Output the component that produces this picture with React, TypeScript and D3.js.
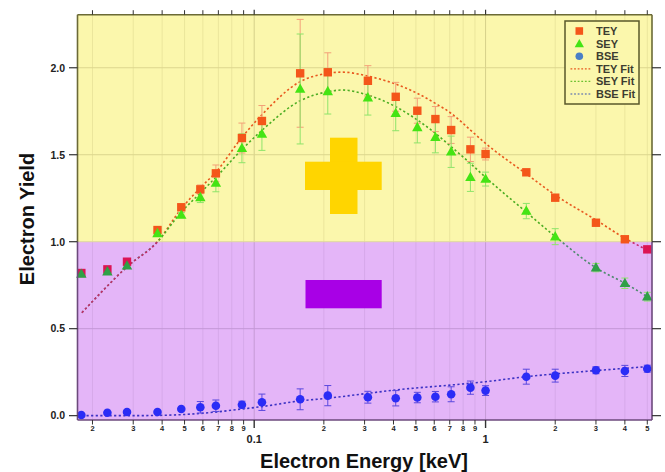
import React from "react";
import * as d3 from "d3";

const energy = [0.0179, 0.0232, 0.0282, 0.0382, 0.0484, 0.0585, 0.0683, 0.0885, 0.108, 0.158, 0.208, 0.31, 0.409, 0.507, 0.607, 0.71, 0.86, 1.0, 1.5, 2.0, 3.0, 4.0, 5.0];
const teyValues = [0.82, 0.841, 0.885, 1.067, 1.198, 1.301, 1.393, 1.596, 1.694, 1.968, 1.974, 1.925, 1.833, 1.753, 1.705, 1.642, 1.531, 1.504, 1.399, 1.253, 1.109, 1.014, 0.956];
const teyErr = [0.01, 0.01, 0.01, 0.015, 0.015, 0.025, 0.048, 0.086, 0.089, 0.31, 0.112, 0.087, 0.083, 0.072, 0.072, 0.077, 0.07, 0.034, 0.01, 0.01, 0.01, 0.01, 0.01];
const seyValues = [0.814, 0.828, 0.862, 1.048, 1.153, 1.255, 1.337, 1.537, 1.619, 1.878, 1.864, 1.828, 1.738, 1.657, 1.6, 1.517, 1.37, 1.36, 1.176, 1.029, 0.851, 0.761, 0.684];
const seyErr = [0.01, 0.01, 0.01, 0.015, 0.015, 0.03, 0.05, 0.083, 0.094, 0.316, 0.13, 0.1, 0.1, 0.089, 0.089, 0.09, 0.081, 0.04, 0.044, 0.046, 0.024, 0.03, 0.025];
const bseValues = [0.004, 0.017, 0.021, 0.021, 0.038, 0.048, 0.057, 0.063, 0.077, 0.094, 0.115, 0.106, 0.1, 0.104, 0.109, 0.123, 0.161, 0.144, 0.224, 0.23, 0.261, 0.257, 0.27];
const bseErr = [0, 0, 0, 0, 0, 0.033, 0.033, 0.02, 0.047, 0.06, 0.058, 0.034, 0.044, 0.03, 0.03, 0.043, 0.038, 0.028, 0.043, 0.037, 0.02, 0.032, 0.02];

const fitEnergy = [0.018, 0.0223, 0.0282, 0.0382, 0.0484, 0.0585, 0.0683, 0.0885, 0.108, 0.158, 0.208, 0.24, 0.31, 0.409, 0.507, 0.607, 0.71, 0.86, 1.0, 1.5, 2.0, 3.0, 4.0, 5.0];
const teyFit = [0.592, 0.722, 0.856, 1.0, 1.19, 1.31, 1.40, 1.6, 1.73, 1.92, 1.968, 1.975, 1.952, 1.906, 1.853, 1.795, 1.738, 1.642, 1.565, 1.39, 1.268, 1.125, 1.02, 0.952];
const seyFit = [0.592, 0.722, 0.856, 1.0, 1.17, 1.28, 1.37, 1.53, 1.64, 1.81, 1.862, 1.872, 1.843, 1.776, 1.70, 1.623, 1.546, 1.45, 1.37, 1.17, 1.03, 0.85, 0.761, 0.684];
const bseFitEnergy = [0.018, 0.03, 0.045, 0.06, 0.0885, 0.108, 0.158, 0.208, 0.3, 0.41, 0.71, 1.0, 1.5, 2.0, 3.0, 5.0];
const bseFit = [0.0, 0.0, 0.004, 0.014, 0.038, 0.052, 0.085, 0.1, 0.126, 0.148, 0.176, 0.195, 0.224, 0.24, 0.259, 0.282];

const yTicks = [0, 0.5, 1.0, 1.5, 2.0];
const xMajorTicks = [0.1, 1];
const xMinorTicks = [0.02, 0.03, 0.04, 0.05, 0.06, 0.07, 0.08, 0.09, 0.2, 0.3, 0.4, 0.5, 0.6, 0.7, 0.8, 0.9, 2, 3, 4, 5];
const legendLabels = ["TEY", "SEY", "BSE", "TEY Fit", "SEY Fit", "BSE Fit"];

const W = 665, H = 472;
const L = 77.5, R = 652, T = 14.7, B = 420;
const FONT = "'Liberation Sans', Arial, Helvetica, sans-serif";

const YELLOW = "#fbf7ac";
const PURPLE = "#e4b5f8";

export default function App() {
  const x = d3.scaleLog().domain([0.01723, 5.24]).range([L, R]);
  const y = d3.scaleLinear().domain([-0.025, 2.305]).range([B, T]);
  const y1 = y(1);

  const mkLine = (xs: number[], ys: number[]) =>
    d3.line<number>().x((_, i) => x(xs[i])).y((d) => y(d)).curve(d3.curveMonotoneX)(ys) || "";

  const teyPath = mkLine(fitEnergy, teyFit);
  const seyPath = mkLine(fitEnergy, seyFit);
  const bsePath = mkLine(bseFitEnergy, bseFit);

  const allTicks = [...xMinorTicks, ...xMajorTicks];
  const dash = "2.2,2.4";

  const triPath = (cx: number, cy: number, s: number) =>
    `M${cx},${cy - s * 0.62}L${cx + s * 0.58},${cy + s * 0.42}L${cx - s * 0.58},${cy + s * 0.42}Z`;

  const errBar = (e: number, v: number, err: number, color: string, key: string) => {
    if (err < 0.012) return null;
    const cx = x(e);
    const yt = y(v + err), yb = y(v - err);
    return (
      <g key={key} stroke={color} strokeWidth={1}>
        <line x1={cx} x2={cx} y1={yt} y2={yb} />
        <line x1={cx - 3.5} x2={cx + 3.5} y1={yt} y2={yt} />
        <line x1={cx - 3.5} x2={cx + 3.5} y1={yb} y2={yb} />
      </g>
    );
  };

  return (
    <svg width={W} height={H} style={{ position: "absolute", left: 0, top: 0 }} fontFamily={FONT}>
      <defs>
        <clipPath id="clipTop"><rect x={L} y={T} width={R - L} height={y1 - T} /></clipPath>
        <clipPath id="clipBot"><rect x={L} y={y1} width={R - L} height={B - y1} /></clipPath>
        <clipPath id="clipAll"><rect x={L} y={T} width={R - L} height={B - T} /></clipPath>
      </defs>
      <rect x={0} y={0} width={W} height={H} fill="#fff" />
      {/* backgrounds */}
      <rect x={L} y={T} width={R - L} height={y1 - T} fill={YELLOW} />
      <rect x={L} y={y1} width={R - L} height={B - y1} fill={PURPLE} />

      {/* grid */}
      {allTicks.map((t) => (
        <g key={"g" + t}>
          <line x1={x(t)} x2={x(t)} y1={T} y2={y1} stroke={xMajorTicks.includes(t) ? "#d6d08a" : "#ebe69c"} strokeWidth={1} />
          <line x1={x(t)} x2={x(t)} y1={y1} y2={B} stroke={xMajorTicks.includes(t) ? "#c59ad6" : "#d6a9ea"} strokeWidth={1} />
        </g>
      ))}
      {yTicks.filter((t) => t > 0 && t !== 1).map((t) => (
        <line key={"h" + t} x1={L} x2={R} y1={y(t)} y2={y(t)} stroke={t < 1 ? "#c398d6" : "#dcd68e"} strokeWidth={1} />
      ))}
      <line x1={L} x2={R} y1={y1} y2={y1} stroke="#e0d99a" strokeWidth={1} />

      {/* plus and minus decorations */}
      <rect x={330} y={137.7} width={27.5} height={76.3} fill="#ffd500" />
      <rect x={305} y={161.7} width={76.7} height={28.3} fill="#ffd500" />
      <rect x={305.5} y={280} width={76.2} height={28.3} fill="#a800e6" />

      {/* fits */}
      <g fill="none" strokeWidth={1.6} strokeDasharray={dash} clipPath="url(#clipAll)">
        <path d={teyPath} stroke="#e8581e" clipPath="url(#clipTop)" />
        <path d={seyPath} stroke="#4cad22" clipPath="url(#clipTop)" />
        <g clipPath="url(#clipBot)">
          <path d={seyPath} stroke="#4e8a6e" />
          <path d={teyPath} stroke="#c8286a" />
        </g>
        <path d={bsePath} stroke="#3c32c4" />
      </g>

      {/* error bars */}
      {energy.map((e, i) => errBar(e, teyValues[i], teyErr[i], "#f3a078", "te" + i))}
      {energy.map((e, i) => errBar(e, seyValues[i], seyErr[i], "#8ee46a", "se" + i))}
      {energy.map((e, i) => errBar(e, bseValues[i], bseErr[i], "#5a48de", "be" + i))}

      {/* markers */}
      {energy.map((e, i) => (
        <rect key={"ts" + i} x={x(e) - 4.2} y={y(teyValues[i]) - 4.2} width={8.4} height={8.4}
          fill={teyValues[i] < 1 ? "#dc1454" : "#f4561a"} />
      ))}
      {energy.map((e, i) => (
        <path key={"ss" + i} d={triPath(x(e), y(seyValues[i]), 9)}
          fill={seyValues[i] < 1 ? "#2fa046" : "#44e414"} />
      ))}
      {energy.map((e, i) => (
        <circle key={"bs" + i} cx={x(e)} cy={y(bseValues[i])} r={4.3} fill="#2b2cf6" />
      ))}

      {/* legend */}
      <g>
        <rect x={565} y={21} width={74} height={83} fill={YELLOW} stroke="#59582a" strokeWidth={1.5} />
        {legendLabels.map((lab, i) => {
          const cy = 31 + i * 12.6;
          let sym: React.ReactNode = null;
          if (i === 0) sym = <rect x={575.5} y={cy - 3.8} width={7.6} height={7.6} fill="#f4561a" />;
          if (i === 1) sym = <path d={triPath(579.3, cy + 0.3, 8)} fill="#44e414" />;
          if (i === 2) sym = <circle cx={579.3} cy={cy} r={3.8} fill="#4a7fc6" />;
          if (i >= 3) sym = <line x1={570.5} x2={591} y1={cy} y2={cy} strokeWidth={1.3} strokeDasharray="1.8,1.8"
            stroke={["#e8581e", "#6cc030", "#7a8ab0"][i - 3]} />;
          return (
            <g key={lab}>
              {sym}
              <text x={596} y={cy + 4} fontSize={11} fontWeight="bold" fill="#3d3d30">{lab}</text>
            </g>
          );
        })}
      </g>

      {/* frame */}
      <g strokeWidth={1.6}>
        <line x1={L} x2={R} y1={T} y2={T} stroke="#6b6a36" />
        <line x1={L} x2={L} y1={T} y2={y1} stroke="#6b6a36" />
        <line x1={R} x2={R} y1={T} y2={y1} stroke="#6b6a36" />
        <line x1={L} x2={L} y1={y1} y2={B} stroke="#6c4a7c" />
        <line x1={R} x2={R} y1={y1} y2={B} stroke="#6c4a7c" />
        <line x1={L} x2={R} y1={B} y2={B} stroke="#6c4a7c" />
      </g>

      {/* y axis ticks */}
      {yTicks.map((t) => (
        <g key={"yt" + t}>
          <line x1={69} x2={L} y1={y(t)} y2={y(t)} stroke="#333" strokeWidth={1.2} />
          <line x1={R} x2={R + 9} y1={y(t)} y2={y(t)} stroke="#333" strokeWidth={1.2} />
          <text x={65} y={y(t) + 3.8} fontSize={10.5} fontWeight="bold" textAnchor="end" fill="#222">{t.toFixed(1)}</text>
        </g>
      ))}

      {/* x axis ticks */}
      {xMinorTicks.map((t) => (
        <g key={"xm" + t}>
          <line x1={x(t)} x2={x(t)} y1={B} y2={B + 4.5} stroke="#333" strokeWidth={1} />
          <line x1={x(t)} x2={x(t)} y1={T} y2={T - 4.5} stroke="#333" strokeWidth={1} />
          <text x={x(t)} y={B + 10.5} fontSize={7.5} fontWeight="bold" textAnchor="middle" fill="#222">
            {String(Math.round(t / Math.pow(10, Math.floor(Math.log10(t) + 1e-9))))}
          </text>
        </g>
      ))}
      {xMajorTicks.map((t) => (
        <g key={"xM" + t}>
          <line x1={x(t)} x2={x(t)} y1={B} y2={B + 8} stroke="#333" strokeWidth={1.4} />
          <line x1={x(t)} x2={x(t)} y1={T} y2={T - 5} stroke="#333" strokeWidth={1.2} />
          <text x={x(t)} y={B + 23} fontSize={11} fontWeight="bold" textAnchor="middle" fill="#222">{String(t)}</text>
        </g>
      ))}

      {/* titles */}
      <text x={364} y={468} fontSize={20} fontWeight="bold" textAnchor="middle" fill="#111">Electron Energy [keV]</text>
      <text transform={`translate(34,219) rotate(-90)`} fontSize={20} fontWeight="bold" textAnchor="middle" fill="#111">Electron Yield</text>
    </svg>
  );
}
